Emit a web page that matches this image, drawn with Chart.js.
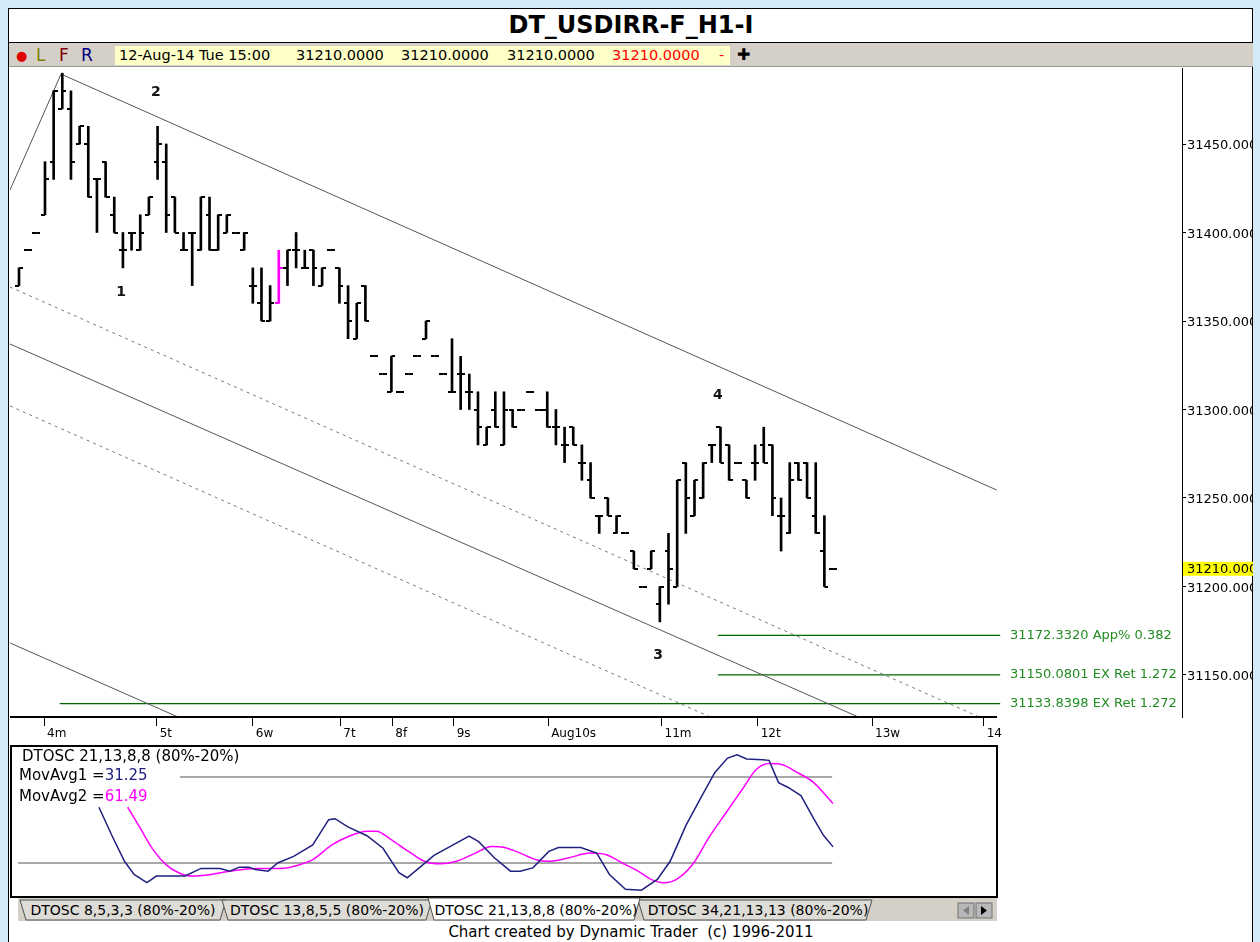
<!DOCTYPE html>
<html><head><meta charset="utf-8">
<script src="https://cdn.jsdelivr.net/npm/chart.js@4.4.0/dist/chart.umd.min.js"></script>
<style>
html,body{margin:0;padding:0;width:1260px;height:942px;overflow:hidden;background:#d3ebf8;
  font-family:"DejaVu Sans",sans-serif;}
.abs{position:absolute;white-space:pre;}
#win{left:8px;top:8px;width:1245px;height:934px;background:#fff;border-left:1px solid #000;border-top:1px solid #000;border-right:1px solid #000;box-sizing:border-box;}
#title{left:9px;top:9px;width:1244px;height:33px;text-align:center;font-weight:bold;font-size:24px;line-height:33px;color:#000;}
#tbar{left:9px;top:42px;width:1244px;height:25px;background:#d4d0c8;border-top:1px solid #000;border-bottom:1px solid #9a9a9a;box-sizing:border-box;}
#ybox{left:115px;top:46px;width:615px;height:19px;background:#ffffc8;}
.tb{font-size:14.5px;line-height:19px;top:46px;color:#000;}
.tl{font-size:17px;top:45px;line-height:20px;}
#osc{left:10px;top:745px;width:988px;height:153px;border:2px solid #000;box-sizing:border-box;}
.ot{font-size:15px;line-height:19px;color:#000;}
#foot{left:9px;top:922px;width:1244px;text-align:center;font-size:15px;line-height:20px;color:#000;}
</style></head>
<body>
<div id="win" class="abs"></div>
<div id="title" class="abs">DT_USDIRR-F_H1-I</div>
<div id="tbar" class="abs"></div>
<div class="abs tl" style="left:16px;color:#e00000;font-size:13px;top:46px;">●</div>
<div class="abs tl" style="left:36px;color:#808000;">L</div>
<div class="abs tl" style="left:59px;color:#800000;">F</div>
<div class="abs tl" style="left:81px;color:#000080;">R</div>
<div id="ybox" class="abs"></div>
<div class="abs tb" style="left:119px;">12-Aug-14 Tue 15:00</div>
<div class="abs tb" style="left:296px;">31210.0000</div>
<div class="abs tb" style="left:401px;">31210.0000</div>
<div class="abs tb" style="left:507px;">31210.0000</div>
<div class="abs tb" style="left:612px;color:#ff0000;">31210.0000</div>
<div class="abs tb" style="left:719px;color:#ff0000;">-</div>
<div class="abs tl" style="left:737px;font-weight:bold;font-size:16px;">✚</div>

<canvas id="main" class="abs" width="1243" height="678" style="left:10px;top:67px;"></canvas>

<div id="osc" class="abs"></div>
<canvas id="oscc" class="abs" width="983" height="148" style="left:12px;top:747px;"></canvas>
<div class="abs ot" style="left:22px;top:747px;">DTOSC 21,13,8,8 (80%-20%)</div>
<div class="abs ot" style="left:19px;top:766px;">MovAvg1 =<span style="color:#202080">31.25</span></div>
<div class="abs ot" style="left:19px;top:787px;">MovAvg2 =<span style="color:#ff00ff">61.49</span></div>

<svg class="abs" style="left:10px;top:897px;" width="990" height="26" font-size="14" font-family='"DejaVu Sans",sans-serif'>
  <rect x="8" y="1" width="979" height="23" fill="#d4d0c8"/>
  <polygon points="10,3 216,3 210,23 16,23" fill="#dedcd6" stroke="#505050"/>
  <polygon points="212,3 422,3 416,23 218,23" fill="#dedcd6" stroke="#505050"/>
  <polygon points="628,3 862,3 856,23 634,23" fill="#dedcd6" stroke="#505050"/>
  <polygon points="418,1 630,1 624,23 424,23" fill="#ffffff" stroke="#505050"/>
  <text x="113" y="18" text-anchor="middle">DTOSC 8,5,3,3 (80%-20%)</text>
  <text x="317" y="18" text-anchor="middle">DTOSC 13,8,5,5 (80%-20%)</text>
  <text x="526" y="18" text-anchor="middle">DTOSC 21,13,8,8 (80%-20%)</text>
  <text x="748" y="18" text-anchor="middle">DTOSC 34,21,13,13 (80%-20%)</text>
  <rect x="948" y="6" width="16" height="15" fill="#b8b8b8" stroke="#707070"/>
  <rect x="966" y="6" width="16" height="15" fill="#b8b8b8" stroke="#707070"/>
  <polygon points="959,9 953,13.5 959,18" fill="#808080"/>
  <polygon points="971,9 977,13.5 971,18" fill="#000"/>
</svg>
<div id="foot" class="abs">Chart created by Dynamic Trader  (c) 1996-2011</div>

<script>
// ---------------- DATA ----------------
const barOpen  = [31370,31390,31400,31410,31440,31470,31470,31450,31450,31430,31440,31410,31390,31400,31390,31410,31440,31440,31420,31390,
                  31400,31390,31410,31390,31400,31400,31390,31370,31360,31350,31360,31380,31390,31380,31390,31370,31390,31380,31360,31340,
                  31370,31330,31320,31310,31310,31320,31330,31340,31330,31320,31310,31320,31310,31300,31280,31300,31280,31300,31300,31310,
                  31300,31300,31290,31280,31290,31270,31260,31240,31250,31230,31230,31220,31200,31210,31190,31220,31200,31270,31240,31250,
                  31280,31290,31280,31270,31260,31270,31280,31280,31240,31230,31270,31270,31240,31220,31210];
const barHigh  = [31380,31390,31400,31440,31480,31490,31480,31460,31460,31430,31440,31420,31400,31400,31410,31420,31460,31450,31420,31400,
                  31400,31420,31420,31410,31410,31400,31400,31380,31380,31370,31390,31390,31400,31390,31390,31380,31390,31380,31370,31360,
                  31370,31330,31320,31330,31310,31320,31330,31350,31330,31320,31340,31330,31320,31310,31290,31310,31310,31300,31300,31310,
                  31300,31310,31300,31290,31290,31280,31270,31240,31250,31240,31230,31220,31200,31220,31200,31230,31260,31270,31260,31270,
                  31280,31290,31280,31270,31260,31280,31290,31280,31250,31270,31270,31270,31270,31240,31210];
const barLow   = [31370,31390,31400,31410,31430,31470,31430,31450,31420,31400,31420,31400,31380,31390,31390,31410,31430,31400,31400,31390,
                  31370,31390,31390,31390,31400,31400,31390,31360,31350,31350,31360,31370,31380,31380,31370,31370,31390,31360,31340,31340,
                  31350,31330,31320,31310,31310,31320,31330,31340,31330,31320,31310,31300,31300,31280,31280,31290,31280,31290,31300,31310,
                  31300,31290,31280,31270,31280,31260,31250,31230,31240,31230,31230,31210,31200,31210,31180,31190,31200,31230,31240,31250,
                  31270,31270,31260,31270,31250,31260,31270,31240,31220,31230,31260,31250,31230,31200,31210];
const barClose = [31380,31390,31400,31430,31480,31480,31440,31460,31420,31430,31420,31400,31390,31400,31400,31420,31450,31410,31400,31390,
                  31400,31420,31390,31410,31410,31400,31400,31370,31350,31360,31380,31390,31390,31380,31380,31380,31390,31370,31350,31360,
                  31350,31330,31320,31330,31310,31320,31330,31350,31330,31320,31310,31320,31310,31290,31290,31290,31300,31290,31300,31310,
                  31300,31290,31290,31280,31280,31270,31250,31240,31240,31240,31230,31210,31200,31220,31200,31210,31260,31250,31260,31270,
                  31280,31270,31260,31270,31250,31270,31270,31250,31240,31260,31260,31250,31230,31200,31210];
const highlightBars = [30];

const priceTicks = [31150,31200,31250,31300,31350,31400,31450];
const dayIdx    = [2.9,15.9,27.0,37.1,43.1,50.2,61.1,74.2,85.3,98.5,111.4];
const dayLabels = ['4m','5t','6w','7t','8f','9s','Aug10s','11m','12t','13w','14'];

// trend / channel lines (bar index, price)
const chanA_x = [-1.04, 4.85],  chanA_y = [31424.0, 31489.5];
const chanB_x = [4.85, 112.9],  chanB_y = [31489.5, 31254.5];
const chanC_x = [-1.04, 112.9], chanC_y = [31369.2, 31121.9];
const chanD_x = [-1.04, 112.9], chanD_y = [31337.0, 31091.9];
const chanE_x = [-1.04, 112.9], chanE_y = [31302.0, 31054.4];
const chanF_x = [-1.04, 30.0],  chanF_y = [31168.1, 31101.2];

const levelValues = [31172.3320, 31150.0801, 31133.8398];
const levelText   = ['App% 0.382', 'EX Ret 1.272', 'EX Ret 1.272'];
const levelStart  = [80.7, 80.7, 4.7];
const levelEnd    = 113.3;

const waveLabels = ['1','2','3','4'];
const waveIdx    = [11.8, 15.8, 73.8, 80.7];
const wavePrice  = [31366, 31479, 31161, 31308];

// oscillator traces (bar index, value)
const navyX = [9.23,10.70,12.18,13.29,14.76,15.87,19.18,21.02,23.23,24.34,25.44,26.55,27.29,28.76,29.87,31.71,33.92,35.76,36.5,37.97,
               40.18,42.03,43.87,44.83,46.45,47.92,50.13,51.97,53.08,54.92,56.76,57.87,59.34,61.18,62.29,64.87,66.71,68.18,70.03,71.87,
               73.71,75.19,77.03,78.87,80.34,81.82,82.92,84.03,85.87,86.61,87.71,88.82,90.29,91.77,92.87,94.0];
const navyY = [58.9,39.5,21.2,12.0,6.3,10.9,10.9,16.2,16.2,14.3,17.1,17.1,15.5,14.3,20.0,24.6,32.6,50.2,50.9,45.2,
               39.0,30.3,13.2,9.7,17.8,25.3,32.6,38.8,34.9,23.5,14.3,14.3,16.6,28.1,30.8,30.8,26.9,12.0,1.7,1.0,
               8.6,21.2,46.4,67.0,83.0,93.2,95.5,92.6,92.1,91.6,76.1,72.7,67.0,50.9,39.5,31.25];
const magX = [12.55,14.02,15.50,16.97,18.44,19.92,22.13,24.34,27.29,30.23,32.45,33.92,36.13,37.97,40.18,41.29,42.76,44.97,46.81,48.66,
              50.50,52.71,54.55,56.03,57.87,59.71,61.18,63.40,65.98,67.82,69.66,71.50,72.98,74.45,75.92,77.77,79.61,81.82,83.66,85.13,
              86.61,88.08,89.92,91.77,94.0];
const magY = [58.9,44.1,29.2,18.9,13.2,10.9,12.0,14.3,16.2,16.2,18.9,22.3,32.6,38.3,42.2,42.2,37.2,28.1,21.2,19.4,
              21.2,26.9,31.5,30.8,26.9,22.3,21.2,23.5,26.9,25.8,20.0,14.3,8.6,6.3,8.6,18.9,37.2,56.6,72.7,85.2,
              89.4,88.7,83.0,76.1,61.49];
const oscLevels = [80, 20];
const oscLevelStart = [18.6, -0.1];
const oscLevelEnd = 93.9;

// ---------------- LAYOUT ----------------
const FONT = '"DejaVu Sans",sans-serif';
const PX0 = 19, DX = 8.66;                 // page x of first bar, px per bar
const PY0 = 144, PPU = 1.77;               // page y of 31450, px per price unit
const idxAt = px => (px - PX0) / DX;
const mainXMin = idxAt(10), mainXMax = idxAt(1182);
const yMax = 31450 + (PY0 - 68) / PPU, yMin = yMax - (717 - 68) / PPU;
const plotEndIdx = idxAt(997), levelLabelIdx = idxAt(1010);
const lastPrice = barClose[barClose.length - 1];
// oscillator: value 80 at page y 777, value 20 at page y 863
const OPU = (863 - 777) / 60;
const oscMax = 80 + (777 - 747) / OPU, oscMin = 20 - (895 - 863) / OPU;

function tickImg(color, left) {
  const c = document.createElement('canvas'); c.width = 8; c.height = 2;
  const g = c.getContext('2d'); g.fillStyle = color; g.fillRect(left ? 0 : 4, 0, 4, 2); return c;
}
const openK = tickImg('#000', true), closeK = tickImg('#000', false);
const openM = tickImg('#ff00ff', true), closeM = tickImg('#ff00ff', false);
const isHi = i => highlightBars.includes(i);

const pts = (xs, ys) => xs.map((x, i) => ({x, y: ys[i]}));
const lineDs = (xs, ys, color, dash, w) => ({type:'line', data: pts(xs, ys), borderColor: color, borderWidth: w || 1,
  borderDash: dash || [], pointRadius: 0, fill: false, tension: 0, order: 10});

const datasets = [
  {type:'bar', data: barHigh.map((h, i) => ({x: i, y: [barLow[i], h]})),
   backgroundColor: barHigh.map((h, i) => isHi(i) ? '#ff00ff' : '#000'), barThickness: 2, borderWidth: 0, order: 1},
  {type:'line', showLine: false, data: barOpen.map((v, i) => ({x: i, y: v})), pointRadius: 4,
   pointStyle: c => isHi(c.dataIndex) ? openM : openK, order: 0},
  {type:'line', showLine: false, data: barClose.map((v, i) => ({x: i, y: v})), pointRadius: 4,
   pointStyle: c => isHi(c.dataIndex) ? closeM : closeK, order: 0},
  lineDs(chanA_x, chanA_y, '#555'),
  lineDs(chanB_x, chanB_y, '#555'),
  lineDs(chanC_x, chanC_y, '#777', [3, 4]),
  lineDs(chanD_x, chanD_y, '#555'),
  lineDs(chanE_x, chanE_y, '#777', [3, 4]),
  lineDs(chanF_x, chanF_y, '#555'),
];
levelValues.forEach((v, i) => datasets.push(lineDs([levelStart[i], levelEnd], [v, v], '#006a00', [], 1.3)));

const mainDecor = {
  id: 'mainDecor',
  afterDraw(chart) {
    const {ctx, scales: {x, y}, chartArea: a} = chart;
    ctx.save();
    ctx.strokeStyle = '#000'; ctx.lineWidth = 2;
    ctx.beginPath(); ctx.moveTo(a.left, a.bottom); ctx.lineTo(x.getPixelForValue(plotEndIdx), a.bottom); ctx.stroke();
    ctx.fillStyle = '#111'; ctx.font = 'bold 14px ' + FONT; ctx.textAlign = 'center'; ctx.textBaseline = 'middle';
    waveLabels.forEach((t, i) => ctx.fillText(t, x.getPixelForValue(waveIdx[i]), y.getPixelForValue(wavePrice[i])));
    ctx.font = '13px ' + FONT; ctx.textAlign = 'left'; ctx.fillStyle = '#228b22';
    levelValues.forEach((v, i) => ctx.fillText(v.toFixed(4) + ' ' + levelText[i], x.getPixelForValue(levelLabelIdx), y.getPixelForValue(v)));
    const py = y.getPixelForValue(lastPrice);
    ctx.fillStyle = '#ffff00'; ctx.fillRect(a.right + 1, py - 7, 80, 14);
    ctx.fillStyle = '#000'; ctx.fillText(lastPrice.toFixed(3), a.right + 5, py + 0.5);
    ctx.restore();
  }
};

const noPad = s => { s.paddingLeft = 0; s.paddingRight = 0; s.paddingTop = 0; s.paddingBottom = 0; };

new Chart(document.getElementById('main'), {
  type: 'bar',
  data: {datasets},
  plugins: [mainDecor],
  options: {
    responsive: false, animation: false, devicePixelRatio: 1, events: [],
    layout: {autoPadding: false, padding: {top: 1, left: 0, right: 0, bottom: 0}},
    plugins: {legend: {display: false}, tooltip: {enabled: false}},
    scales: {
      x: {type: 'linear', min: mainXMin, max: mainXMax, offset: false,
        afterBuildTicks: s => { s.ticks = dayIdx.map(v => ({value: v})); },
        afterFit: s => { s.height = 28; noPad(s); },
        ticks: {callback: (v, i) => dayLabels[i], align: 'start', labelOffset: 3, padding: 1, maxRotation: 0, autoSkip: false,
                color: '#000', font: {family: FONT, size: 12}},
        grid: {display: true, offset: false, drawOnChartArea: false, drawTicks: true, tickLength: 9, color: '#000', lineWidth: 1},
        border: {display: false}},
      y: {type: 'linear', position: 'right', min: yMin, max: yMax,
        afterBuildTicks: s => { s.ticks = priceTicks.map(v => ({value: v})); },
        afterFit: s => { s.width = 71; noPad(s); },
        ticks: {callback: v => v.toFixed(3), padding: 1, labelOffset: 2, color: '#000', font: {family: FONT, size: 13}},
        grid: {display: true, offset: false, drawOnChartArea: false, drawTicks: true, tickLength: 4, color: '#000', lineWidth: 1},
        border: {display: true, color: '#000', width: 1}}
    }
  }
});

// oscillator
const oscDs = [
  ...oscLevels.map((v, i) => ({data: [{x: oscLevelStart[i], y: v}, {x: oscLevelEnd, y: v}], borderColor: '#a8a8a8', borderWidth: 2, pointRadius: 0, order: 5})),
  {data: pts(navyX, navyY), borderColor: '#202080', borderWidth: 1.5, pointRadius: 0, tension: 0, order: 1},
  {data: pts(magX, magY), borderColor: '#ff00ff', borderWidth: 1.5, pointRadius: 0, cubicInterpolationMode: 'monotone', order: 2},
];
new Chart(document.getElementById('oscc'), {
  type: 'line',
  data: {datasets: oscDs},
  options: {
    responsive: false, animation: false, devicePixelRatio: 1, events: [],
    layout: {autoPadding: false, padding: 0},
    plugins: {legend: {display: false}, tooltip: {enabled: false}},
    scales: {
      x: {type: 'linear', display: false, min: idxAt(12), max: idxAt(995)},
      y: {type: 'linear', display: false, min: oscMin, max: oscMax}
    }
  }
});
</script>
</body></html>
